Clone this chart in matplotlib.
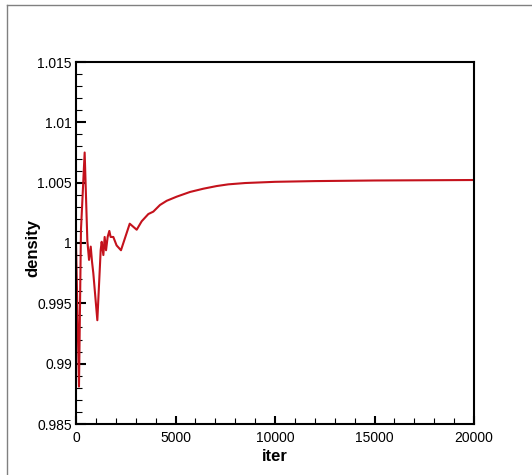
import matplotlib.pyplot as plt
from matplotlib.ticker import MultipleLocator
from matplotlib.lines import Line2D

plt.rcParams['font.family'] = ['Liberation Sans', 'DejaVu Sans']

# Values
iters = [0, 150, 250, 435, 570, 655, 740, 805, 870, 1072, 1240, 1290, 1375,
         1440, 1510, 1590, 1675, 1740, 1875, 2040, 2260, 2700, 3050, 3300,
         3635, 3885, 4220, 4560, 5060, 5730, 6400, 7070, 7650, 8500, 10000,
         12000, 15000, 20000]
density = [1.0000, 0.9881, 1.0011, 1.0075, 1.0002, 0.9986, 0.9997, 0.99845,
           0.9975, 0.9936, 0.9994, 1.0001, 0.9990, 1.0005, 0.9994, 1.0005,
           1.0010, 1.0005, 1.0005, 0.9998, 0.9994, 1.0016, 1.0011, 1.0018,
           1.0024, 1.0026, 1.00315, 1.0035, 1.00384, 1.00423, 1.0045, 1.00472,
           1.00486, 1.00497, 1.00507, 1.00513, 1.00518, 1.00522]

fig = plt.figure(figsize=(5.32, 4.75), dpi=100)
ax = fig.add_axes([76 / 532, 51 / 475, 398 / 532, 362 / 475])

ax.plot(iters, density, color='#c4121c', linewidth=1.5)

ax.set_xlim(0, 20000)
ax.set_ylim(0.985, 1.015)
ax.xaxis.set_major_locator(MultipleLocator(5000))
ax.xaxis.set_minor_locator(MultipleLocator(1000))
ax.yaxis.set_minor_locator(MultipleLocator(0.001))
ax.set_yticks([0.985, 0.99, 0.995, 1.0, 1.005, 1.01, 1.015])
ax.set_yticklabels(['0.985', '0.99', '0.995', '1', '1.005', '1.01', '1.015'])

ax.tick_params(which='both', direction='in', top=False, right=False,
               labelsize=10, colors='black')
ax.tick_params(axis='y', which='major', length=7, width=1.5, pad=3)
ax.tick_params(axis='x', which='major', length=6, width=1.5, pad=5)
ax.tick_params(which='minor', length=4, width=0.8)

for s in ax.spines.values():
    s.set_linewidth(1.5)

ax.set_xlabel('iter', fontsize=12, fontweight='bold', labelpad=3)
ax.set_ylabel('density', fontsize=12, fontweight='bold')
# the y label sits close in, under the short "1" label
ax.yaxis.set_label_coords(-0.09, 0.486)

# grey frame round the picture
fig.add_artist(Line2D([7 / 532, 7 / 532], [0, 1 - 5 / 475], transform=fig.transFigure,
                      color='#808080', linewidth=1))
fig.add_artist(Line2D([7 / 532, 1], [1 - 5 / 475, 1 - 5 / 475], transform=fig.transFigure,
                      color='#808080', linewidth=1))

fig.savefig('out.png', dpi=100)
